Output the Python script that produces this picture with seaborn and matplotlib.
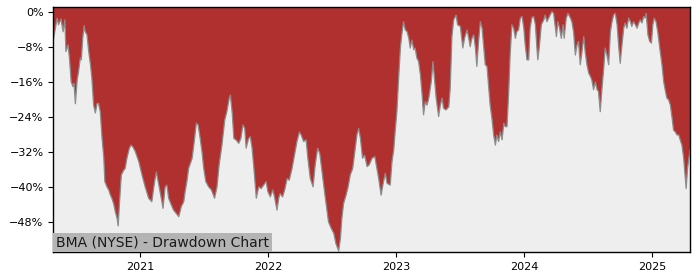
import matplotlib
matplotlib.use("Agg")
import matplotlib.pyplot as plt
import matplotlib.dates as mdates
from matplotlib.ticker import MultipleLocator, PercentFormatter
import numpy as np
import pandas as pd
import seaborn as sns

title = "BMA (NYSE) - Drawdown Chart"
start_date = "2020-04-28"

# days since start_date
days = [0, 5, 11, 15, 22, 28, 33, 36, 42, 46, 51, 56, 59, 63, 68, 72, 77, 80, 84, 88,
        91, 96, 101, 106, 110, 115, 120, 125, 129, 134, 139, 144, 147, 153, 158, 163, 167, 172, 177, 182,
        185, 189, 194, 201, 205, 210, 217, 222, 227, 234, 244, 253, 262, 272, 281, 289, 294, 301, 308, 313,
        319, 324, 329, 337, 343, 350, 358, 365, 372, 376, 381, 386, 396, 402, 408, 413, 419, 424, 429, 435,
        443, 451, 460, 467, 473, 481, 489, 495, 502, 505, 510, 515, 521, 529, 535, 541, 546, 550, 557, 562,
        567, 573, 579, 586, 593, 600, 607, 612, 619, 626, 631, 638, 643, 647, 654, 660, 667, 673, 681, 688,
        695, 702, 707, 714, 721, 726, 733, 741, 747, 754, 760, 764, 771, 776, 781, 785, 793, 800, 806, 814,
        819, 823, 828, 835, 841, 847, 854, 860, 866, 871, 876, 882, 888, 895, 901, 909, 917, 923, 928, 935,
        940, 947, 952, 961, 966, 971, 975, 980, 985, 990, 994, 999, 1004, 1009, 1014, 1018, 1023, 1028, 1032, 1037,
        1042, 1047, 1052, 1056, 1061, 1066, 1071, 1078, 1083, 1088, 1092, 1099, 1104, 1109, 1113, 1120, 1128, 1132, 1137, 1142,
        1149, 1153, 1161, 1168, 1173, 1180, 1185, 1189, 1194, 1199, 1204, 1208, 1213, 1218, 1223, 1228, 1232, 1237, 1242, 1246,
        1251, 1256, 1261, 1265, 1270, 1275, 1280, 1285, 1289, 1294, 1299, 1303, 1308, 1313, 1318, 1322, 1327, 1332, 1337, 1342,
        1346, 1351, 1356, 1360, 1365, 1370, 1375, 1380, 1382, 1386, 1392, 1399, 1403, 1408, 1413, 1417, 1422, 1427, 1432, 1435,
        1439, 1444, 1449, 1454, 1457, 1463, 1468, 1475, 1479, 1484, 1489, 1494, 1498, 1503, 1508, 1513, 1517, 1522, 1527, 1532,
        1536, 1541, 1546, 1551, 1555, 1560, 1565, 1570, 1574, 1579, 1584, 1589, 1593, 1598, 1603, 1608, 1613, 1617, 1622, 1627,
        1631, 1636, 1641, 1646, 1650, 1655, 1660, 1665, 1670, 1674, 1679, 1684, 1688, 1691, 1696, 1701, 1706, 1710, 1714, 1719,
        1724, 1731, 1736, 1741, 1746, 1750, 1755, 1760, 1765, 1769, 1774, 1779, 1784, 1788, 1793, 1798, 1802, 1805, 1809, 1816]

# drawdown in percent
drawdown = [-6.5, -4.2, -1.5, -3.0, -1.7, -4.6, -1.9, -9.1, -7.6, -10.6, -16.0, -17.1, -16.3, -21.0, -15.6, -13.7, -10.6, -11.0, -6.1, -3.2,
            -4.6, -5.3, -9.1, -12.1, -15.2, -21.3, -23.1, -20.9, -20.9, -22.8, -28.8, -33.3, -38.7, -39.9, -40.6, -41.8, -42.5, -43.7, -45.6, -47.1,
            -48.8, -43.3, -37.2, -36.1, -35.7, -33.4, -31.1, -30.4, -30.8, -31.9, -34.2, -37.2, -39.9, -42.5, -43.3, -38.7, -36.5, -39.5, -42.5, -44.8,
            -39.9, -39.5, -42.5, -44.1, -45.2, -45.9, -46.7, -44.4, -43.3, -41.0, -38.7, -35.7, -33.4, -29.6, -25.4, -25.8, -28.9, -31.9, -35.7, -38.7,
            -39.9, -40.6, -42.5, -39.9, -34.9, -30.4, -24.7, -22.8, -19.7, -19.0, -22.8, -28.9, -29.2, -30.0, -28.9, -25.8, -26.6, -31.1, -28.9, -28.5,
            -31.1, -36.5, -42.5, -39.9, -40.3, -39.5, -38.7, -41.0, -42.2, -40.6, -42.2, -45.2, -42.5, -41.4, -42.2, -40.6, -38.0, -38.4, -35.7, -32.7,
            -29.6, -27.4, -28.1, -29.6, -29.2, -33.4, -38.0, -39.9, -34.9, -31.1, -32.3, -34.9, -39.5, -42.5, -45.6, -47.9, -49.4, -50.5, -52.8, -54.5,
            -51.6, -47.1, -43.7, -41.8, -39.9, -37.2, -35.7, -31.9, -28.1, -26.6, -28.9, -33.4, -32.7, -35.3, -34.9, -33.4, -33.0, -35.7, -38.0, -41.8,
            -39.5, -36.8, -39.1, -39.5, -34.2, -31.5, -27.4, -22.8, -15.2, -8.3, -5.3, -2.3, -4.2, -4.6, -6.1, -8.3, -6.5, -8.7, -8.3, -10.6,
            -11.4, -14.4, -19.0, -23.5, -20.5, -21.3, -19.7, -16.0, -11.4, -16.0, -19.7, -23.9, -21.3, -19.7, -22.0, -22.4, -21.7, -17.5, -5.7, -1.9,
            -0.8, -3.0, -3.4, -8.3, -6.1, -4.2, -6.1, -8.0, -6.1, -5.3, -8.3, -12.5, -6.8, -2.3, -3.8, -8.3, -12.1, -12.5, -17.5, -21.3,
            -24.3, -28.1, -30.4, -28.1, -29.6, -27.4, -29.2, -25.4, -26.2, -26.2, -18.2, -9.9, -3.0, -3.8, -6.1, -4.6, -4.2, -1.5, -1.1, -3.8,
            -7.6, -11.0, -11.0, -3.8, -1.4, -1.1, -3.0, -9.1, -11.0, -8.3, -3.0, -1.9, -0.8, -2.3, -1.5, -0.8, 0.0, -0.4, -3.8, -5.7,
            -2.3, -3.8, -6.1, -3.0, -6.1, -1.5, -0.4, -1.5, -2.3, -4.6, -9.9, -7.6, -6.8, -12.1, -9.1, -5.7, -9.1, -12.1, -14.0, -14.8,
            -15.6, -17.8, -16.0, -17.8, -18.2, -22.8, -17.5, -12.9, -8.3, -9.9, -12.1, -4.6, -2.6, -0.8, -0.4, -3.0, -8.3, -11.8, -7.6, -3.8,
            -2.6, -3.8, -1.5, -2.3, -3.4, -2.3, -3.0, -3.8, -2.6, -1.9, -2.6, -1.1, -1.5, -0.4, -5.3, -6.8, -7.2, -3.0, -1.5, -2.3,
            -4.6, -9.1, -12.1, -16.0, -18.2, -19.7, -20.1, -21.3, -24.3, -27.0, -27.4, -28.1, -28.1, -29.2, -30.4, -33.4, -37.2, -40.3, -35.7, -31.5]

y_tick_step = 8
y_limits = (-54.8, 1.1)

dates = pd.Timestamp(start_date) + pd.to_timedelta(days, unit="D")
df = pd.DataFrame({"date": dates, "drawdown": drawdown})

fig = plt.figure(figsize=(7.0, 2.8), dpi=100)
ax = fig.add_axes([53.3 / 700, 1 - 252.3 / 280, (690 - 53.3) / 700, (252.3 - 6.7) / 280])

red = "#b03030"
bg = "#eeeeee"
ax.set_facecolor(red)
ax.fill_between(df["date"], df["drawdown"], -100, color=bg, lw=0, zorder=1)
sns.lineplot(data=df, x="date", y="drawdown", ax=ax, color="#8c8c8c", lw=0.9,
             estimator=None, zorder=2)

ax.set_xlim(df["date"].iloc[0], df["date"].iloc[-1])
ax.set_ylim(*y_limits)
ax.yaxis.set_major_locator(MultipleLocator(y_tick_step))
ax.yaxis.set_major_formatter(PercentFormatter(decimals=0))
ax.xaxis.set_major_locator(mdates.YearLocator())
ax.xaxis.set_major_formatter(mdates.DateFormatter("%Y"))
ax.tick_params(axis="both", labelsize=8, length=3.5, width=0.8)
ax.set_xlabel("")
ax.set_ylabel("")
for s in ax.spines.values():
    s.set_linewidth(1.0)
    s.set_color("black")

ax.annotate(title, xy=(0, 0), xycoords="axes fraction", xytext=(2, 2),
            textcoords="offset points", ha="left", va="bottom", fontsize=10,
            color="#1a1a1a", zorder=5,
            bbox=dict(boxstyle="square,pad=0.2", fc="#b4b4b4", ec="none"))

fig.savefig("out.png", dpi=100)
